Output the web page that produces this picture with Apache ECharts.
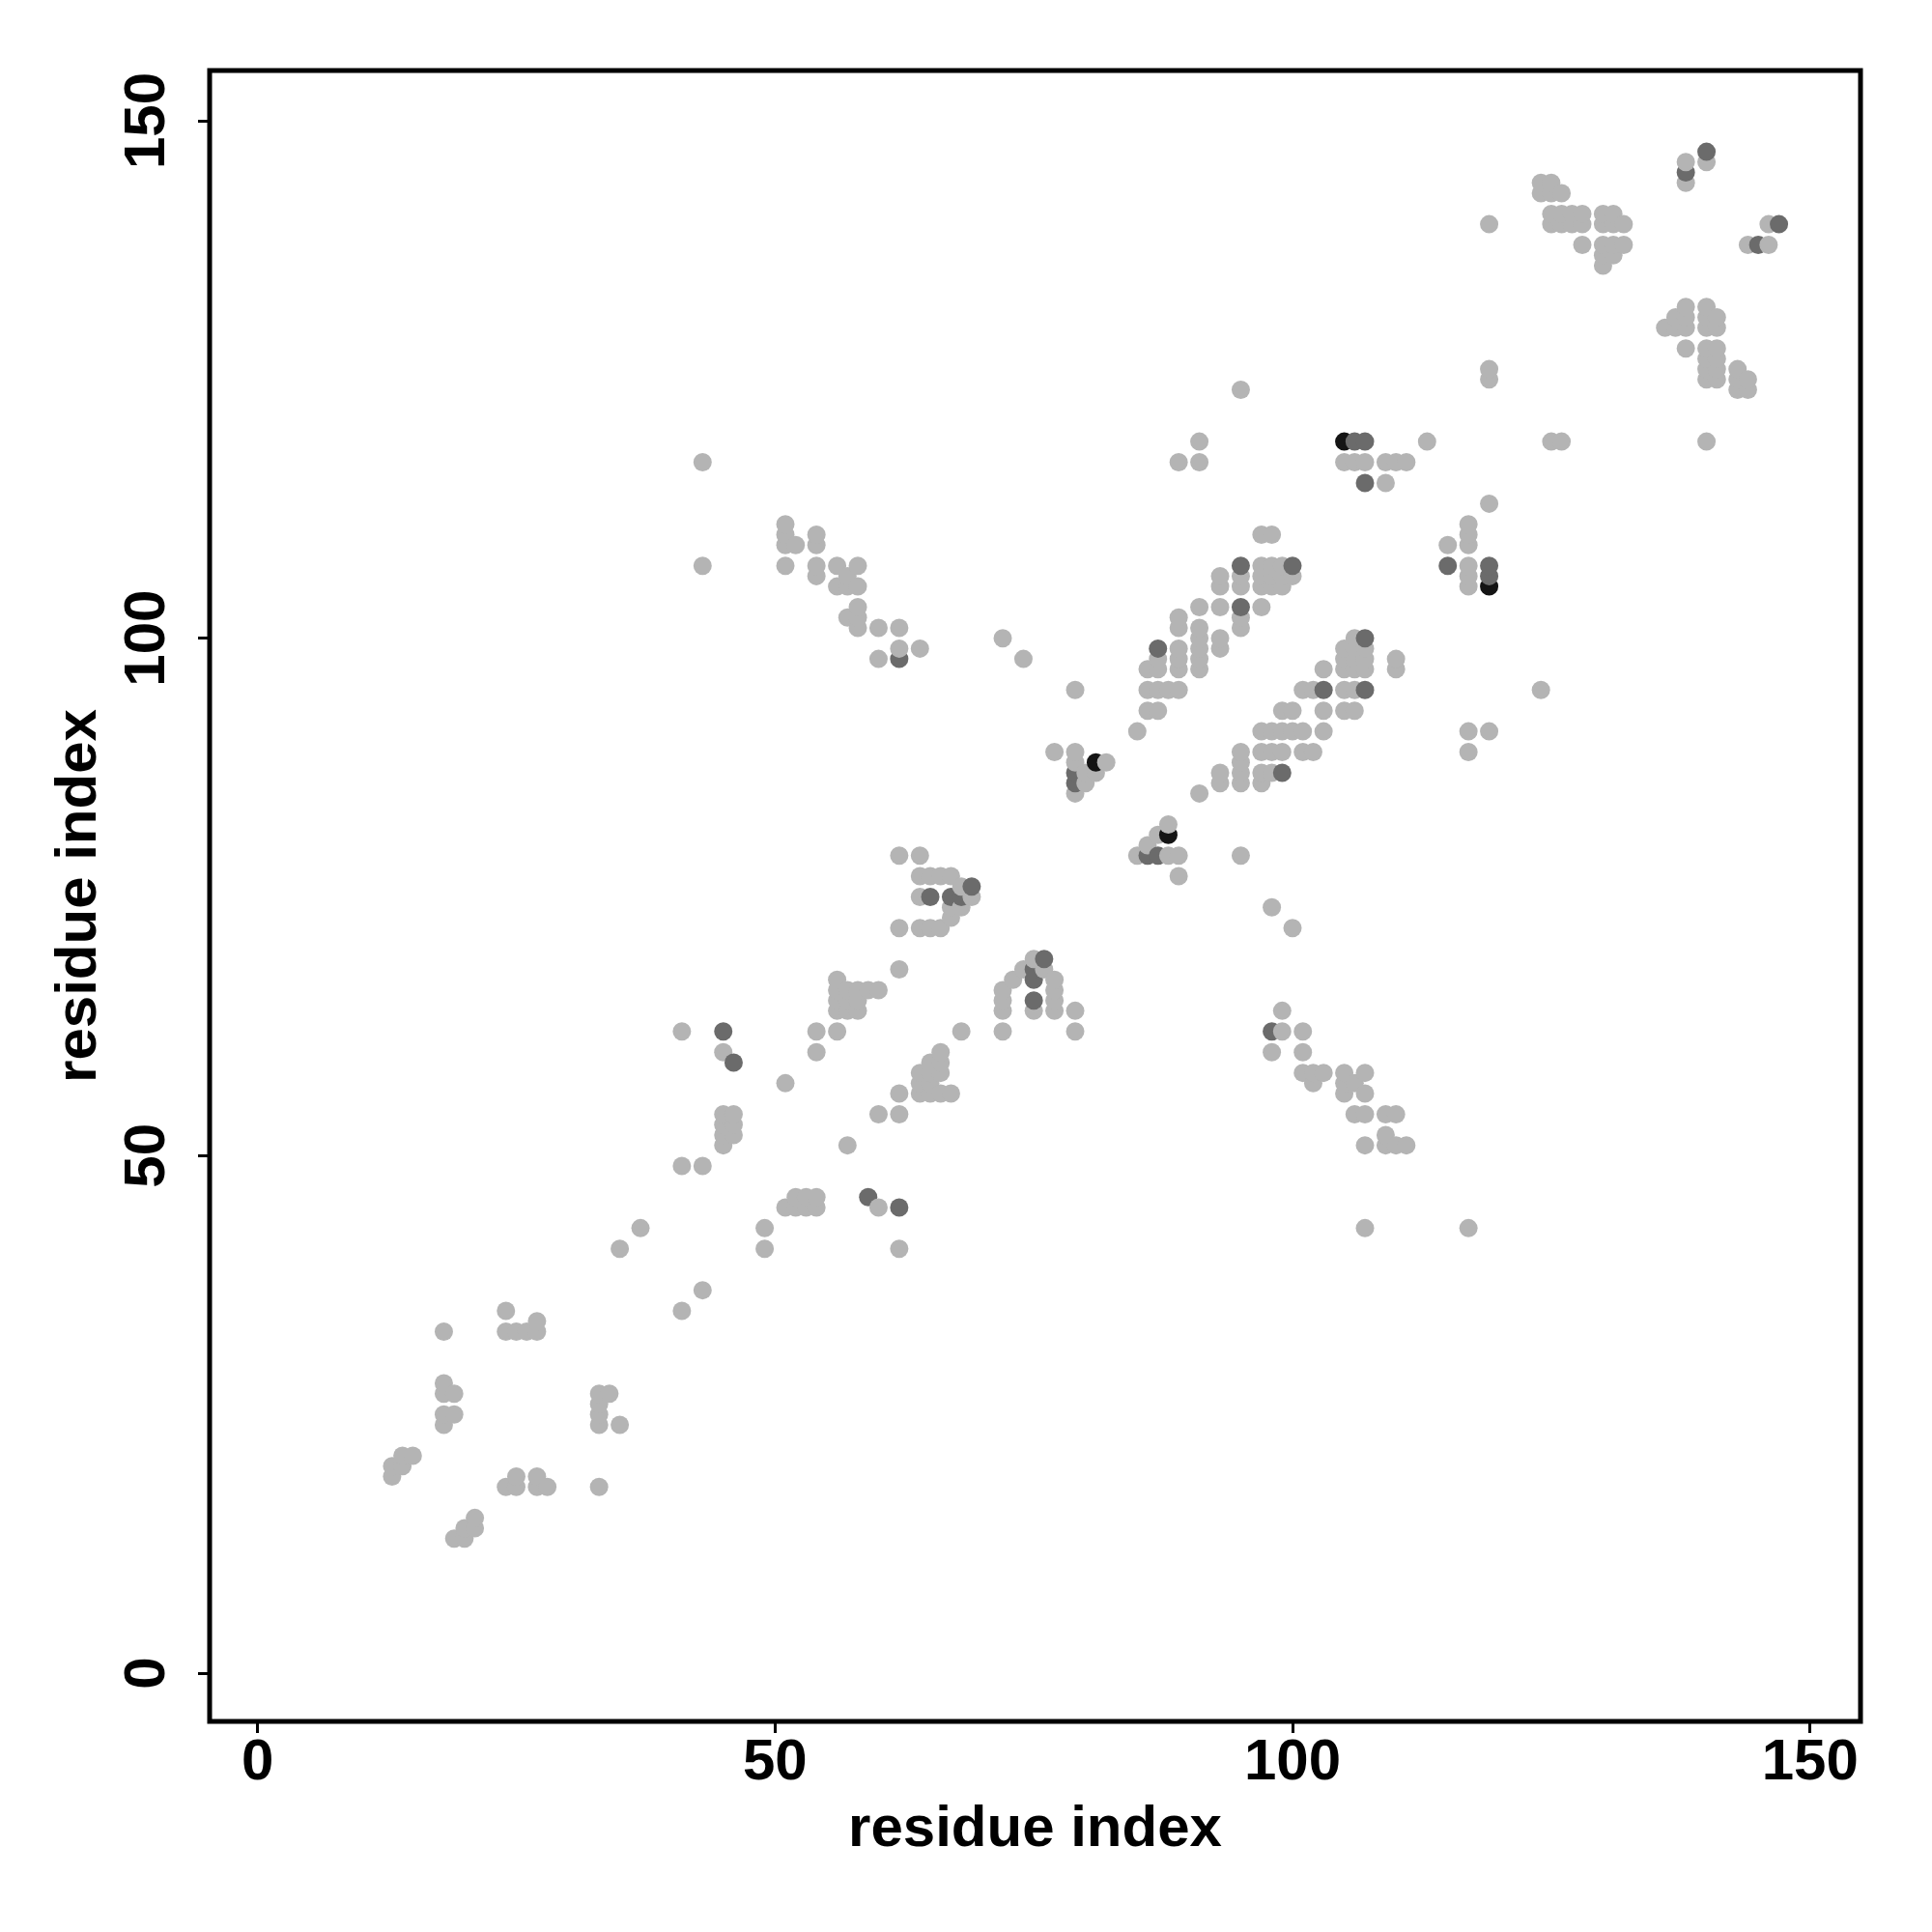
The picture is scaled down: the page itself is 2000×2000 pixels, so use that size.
<!DOCTYPE html>
<html>
<head>
<meta charset="utf-8">
<script src="https://cdn.jsdelivr.net/npm/echarts@6/dist/echarts.min.js"></script>
<style>html,body{margin:0;padding:0;background:#fff}#chart{width:2000px;height:2000px}</style>
</head>
<body>
<div id="chart"></div>
<script>
// Tick labels
const xTicks = [0, 50, 100, 150];
const yTicks = [0, 50, 100, 150];
const axisTitle = 'residue index';

// Contacts [residue i, residue j], by shade
const lightContacts = [
[13,19],[13,20],[14,20],[14,21],[15,21],[18,24],[18,25],[19,25],[18,27],[19,27],[18,28],[18,33],[19,13],[20,13],[20,14],[21,14],[21,15],[24,18],[25,18],[27,18],[28,18],[25,19],[27,19],[24,33],[25,33],[26,33],[27,33],[27,34],[24,35],[33,18],[33,24],[33,25],[33,26],[33,27],[34,27],[35,24],[35,41],
[37,43],[41,35],[43,37],[41,49],[43,49],[41,62],[45,60],[45,51],[45,52],[46,52],[45,53],[46,53],[45,54],[46,54],[49,41],[49,43],[51,45],[52,45],[53,45],[54,45],[52,46],[53,46],[54,46],[51,57],[54,60],[54,62],[56,62],[57,51],[60,45],[62,41],[60,54],[62,54],[62,56],
[56,64],[57,64],[58,64],[56,65],[57,65],[58,65],[56,66],[57,66],[58,66],[59,66],[60,66],[56,67],[62,68],[68,62],
[64,56],[65,56],[66,56],[67,56],[64,57],[65,57],[64,58],[65,58],[66,58],[65,59],[66,59],[66,60],
[72,62],[72,64],[72,65],[72,66],[73,67],[74,68],[75,69],[75,64],[76,68],[77,64],[77,65],[77,66],[77,67],[79,62],[79,64],
[62,72],[64,72],[65,72],[66,72],[67,73],[67,74],[68,74],[64,75],[69,75],[68,76],[64,77],[65,77],[66,77],[67,77],[62,79],[64,79],
[77,89],[79,89],[79,88],[82,88],[80,87],[81,87],[80,86],[79,85],[91,85],[88,82],[87,81],[86,80],[85,79],[88,79],[89,79],[89,77],[95,79],
[85,91],[86,93],[87,93],[86,95],[87,95],[88,95],[89,95],[79,95],[72,100],[74,98],
[43,107],[43,117],[51,107],[51,109],[52,109],[51,110],[51,111],[54,106],[54,107],[54,109],[54,110],[56,105],[57,105],[58,105],[57,106],[56,107],[58,107],[57,102],[58,101],[58,102],[58,103],[60,101],[62,101],[62,99],[64,99],[60,98],
[86,97],[87,97],[87,98],[89,97],[89,98],[89,99],[89,101],[89,102],[91,97],[91,98],[91,99],[91,100],[91,101],[91,103],[93,99],[93,100],[93,103],[93,105],[93,106],[95,101],[95,102],[95,105],[95,106],[97,103],[97,105],[98,105],[99,105],[97,106],[98,106],[99,106],[100,106],[97,107],[98,107],[99,107],[97,110],[98,110],
[93,86],[93,87],[95,86],[95,87],[95,88],[95,89],[97,86],[97,87],[98,87],[97,89],[98,89],[99,89],[101,89],[102,89],[97,91],[98,91],[99,91],[100,91],[101,91],[103,91],[99,93],[100,93],[103,93],[105,93],[106,93],[101,95],[102,95],[105,95],[106,95],[103,97],[105,97],[106,97],[107,97],[105,98],[106,98],[107,98],[105,99],[106,99],[107,99],[106,100],[110,97],[110,98],
[98,74],[100,72],[99,64],[99,62],[101,62],[98,60],[101,60],[101,58],[102,58],[103,58],[102,57],[105,58],[107,58],[105,57],[106,57],[105,56],[107,56],[106,54],[107,54],[109,54],[110,54],[109,52],[107,51],[109,51],[110,51],[111,51],[107,43],[117,43],
[95,124],[89,117],[91,117],[91,119],[105,117],[106,117],[107,117],[109,117],[110,117],[111,117],[109,115],[113,119],[119,125],[119,126],[125,119],[126,119],[119,113],[115,109],[117,109],[117,110],[117,111],[117,105],[117,106],[117,107],[124,95],[117,89],[117,91],[119,91],
[119,140],[124,143],[125,143],[126,143],[124,144],[125,144],[125,140],[126,140],[127,140],[128,140],[125,141],[126,141],[127,141],[128,141],[130,140],[131,140],[132,140],[130,141],[131,141],[128,138],[130,138],[131,138],[132,138],[130,137],[131,137],[130,136],
[138,144],[138,146],[140,146],[144,138],[146,138],[146,140],[136,130],[137,130],[138,130],[140,130],[141,130],[137,131],[138,131],[140,131],[141,131],[138,132],[140,132],[138,128],[140,128],[141,128],[140,127],[141,127],[140,126],[141,126],[140,125],[141,125],[143,124],[143,125],[143,126],[144,124],[144,125],[140,119]
];
const darkContacts = [
[45,62],[46,59],[59,46],[62,45],[62,98],[65,75],[67,75],[68,75],[69,76],[75,65],[75,67],[75,68],[76,69],[79,86],[79,87],[86,79],[87,79],[87,99],[95,103],[95,107],[100,107],[99,87],[103,95],[107,95],[107,100],[98,62],[106,119],[107,119],[107,115],[115,107],[119,106],[119,107],[138,145],[140,147],[145,138],[147,140]
];
const blackContacts = [[81,88],[88,81],[105,119],[119,105]];

const shadeColors = ['#b4b4b4', '#6b6b6b', '#141414'];

const points = [].concat(
  lightContacts.map(p => [p[0], p[1], 0]),
  darkContacts.map(p => [p[0], p[1], 1]),
  blackContacts.map(p => [p[0], p[1], 2])
).sort((a, b) => (a[0] - b[0]) || (a[1] - b[1]));

const font = '"Liberation Sans", Arial, Helvetica, sans-serif';
const labelStyle = {fontFamily: font, fontSize: 60, fontWeight: 'bold', color: '#000'};

const chart = echarts.init(document.getElementById('chart'), null, {renderer: 'canvas', width: 2000, height: 2000});
chart.setOption({
  animation: false,
  backgroundColor: '#fff',
  grid: {left: 217, top: 73, width: 1709, height: 1709, show: true, borderColor: '#000', borderWidth: 5, backgroundColor: 'transparent'},
  xAxis: {
    type: 'value', min: -4.63, max: 154.88,
    name: axisTitle, nameLocation: 'middle', nameGap: 82,
    nameTextStyle: labelStyle,
    axisLine: {show: false, onZero: false},
    splitLine: {show: false},
    axisTick: {show: true, length: 12, customValues: xTicks, lineStyle: {color: '#000', width: 3}},
    axisLabel: Object.assign({customValues: xTicks, margin: 13}, labelStyle)
  },
  yAxis: {
    type: 'value', min: -4.66, max: 154.85,
    name: axisTitle, nameLocation: 'middle', nameGap: 105, nameRotate: 90,
    nameTextStyle: labelStyle,
    axisLine: {show: false, onZero: false},
    splitLine: {show: false},
    axisTick: {show: true, length: 12, customValues: yTicks, lineStyle: {color: '#000', width: 3}},
    axisLabel: Object.assign({customValues: yTicks, margin: 34, rotate: 90}, labelStyle)
  },
  series: [{
    type: 'scatter',
    data: points,
    symbol: 'circle',
    symbolSize: 19,
    silent: true,
    itemStyle: {color: p => shadeColors[p.value[2]], opacity: 1}
  }]
});
</script>
</body>
</html>
